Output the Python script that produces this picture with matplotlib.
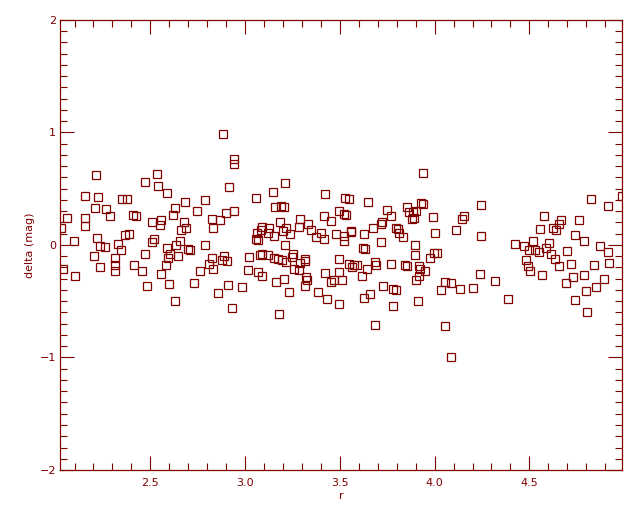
import matplotlib
matplotlib.use('Agg')
import matplotlib.pyplot as plt
from matplotlib.ticker import MultipleLocator
import numpy as np

# r values and delta (mag), left to right by strip
r = [2.215, 2.474, 2.537, 2.542, 2.157, 2.226, 2.351, 2.379, 2.210, 2.268,
     2.289, 2.062, 2.157, 2.410, 2.426, 2.511, 2.027, 2.157, 2.368, 2.389,
     2.220, 2.099, 2.511, 2.521, 2.236, 2.263, 2.331, 2.347, 2.204, 2.315,
     2.474, 2.038, 2.236, 2.315, 2.315, 2.416, 2.458, 2.104, 2.484,
     2.885, 2.943, 2.943, 2.590, 2.917, 2.685, 2.790, 2.632, 2.748, 2.943,
     2.901, 2.621, 2.558, 2.553, 2.679, 2.827, 2.869, 2.664, 2.690, 2.832,
     2.658, 2.590, 2.637, 2.701, 2.711, 2.790, 2.606, 2.595, 2.648, 2.584,
     2.827, 2.891, 2.880, 2.906, 2.811, 2.832, 2.764, 3.022, 3.017, 2.558,
     2.600, 2.732, 2.912, 2.985, 2.859, 2.632, 2.933,
     3.212, 3.149, 3.059, 3.423, 3.525, 3.160, 3.191, 3.207, 3.494, 3.524,
     3.534, 3.418, 3.455, 3.186, 3.292, 3.334, 3.286, 3.091, 3.128, 3.086,
     3.065, 3.123, 3.154, 3.202, 3.218, 3.239, 3.350, 3.402, 3.376, 3.418,
     3.482, 3.521, 3.524, 3.059, 3.070, 3.212, 3.080, 3.091, 3.123, 3.154,
     3.175, 3.197, 3.218, 3.255, 3.249, 3.318, 3.318, 3.292, 3.260, 3.286,
     3.498, 3.070, 3.091, 3.165, 3.207, 3.323, 3.328, 3.423, 3.498, 3.455,
     3.471, 3.513, 3.233, 3.318, 3.387, 3.434, 3.494, 3.181,
     3.941, 3.550, 3.650, 3.751, 3.772, 3.856, 3.867, 3.888, 3.904, 3.930,
     3.941, 3.883, 3.893, 3.994, 3.724, 3.719, 3.677, 3.561, 3.561, 3.629,
     3.798, 3.809, 3.814, 3.835, 4.004, 3.719, 3.624, 3.635, 3.898, 3.898,
     3.978, 3.999, 3.550, 3.566, 3.577, 3.592, 3.687, 3.693, 3.772, 3.846,
     3.856, 3.920, 3.925, 3.951, 3.920, 3.904, 3.645, 3.619, 3.730, 3.782,
     3.798, 3.661, 3.629, 3.914, 3.782, 3.687,
     4.247, 4.157, 4.146, 4.115, 4.247, 4.426, 4.474, 4.521, 4.500, 4.015,
     4.484, 4.495, 4.505, 4.241, 4.321, 4.057, 4.088, 4.036, 4.136, 4.204,
     4.389, 4.057, 4.088,
     4.827, 4.988, 4.917, 4.579, 4.669, 4.764, 4.658, 4.627, 4.642, 4.558,
     4.743, 4.606, 4.790, 4.875, 4.532, 4.553, 4.590, 4.616, 4.701, 4.917,
     4.637, 4.658, 4.722, 4.843, 4.922, 4.569, 4.732, 4.790, 4.896, 4.695,
     4.854, 4.796, 4.743, 4.806]

delta = [0.618, 0.556, 0.627, 0.520, 0.432, 0.423, 0.405, 0.405, 0.325, 0.316,
         0.254, 0.236, 0.236, 0.263, 0.254, 0.201, 0.147, 0.165, 0.085, 0.094,
         0.059, 0.032, 0.023, 0.050, -0.012, -0.021, 0.005, -0.048, -0.101, -0.119,
         -0.083, -0.217, -0.199, -0.181, -0.234, -0.181, -0.234, -0.279, -0.368,
         0.982, 0.763, 0.721, 0.458, 0.512, 0.378, 0.396, 0.325, 0.298, 0.298,
         0.281, 0.263, 0.218, 0.174, 0.201, 0.227, 0.218, 0.130, 0.147, 0.147,
         0.032, -0.030, -0.004, -0.039, -0.048, -0.004, -0.083, -0.119, -0.101, -0.181,
         -0.119, -0.101, -0.137, -0.146, -0.172, -0.217, -0.234, -0.110, -0.226, -0.261,
         -0.350, -0.341, -0.359, -0.377, -0.430, -0.501, -0.563,
         0.547, 0.467, 0.414, 0.449, 0.414, 0.334, 0.343, 0.334, 0.298, 0.272,
         0.263, 0.254, 0.210, 0.201, 0.227, 0.183, 0.156, 0.156, 0.147, 0.130,
         0.103, 0.103, 0.076, 0.121, 0.147, 0.094, 0.130, 0.103, 0.067, 0.050,
         0.094, 0.076, 0.032, 0.050, 0.041, -0.004, -0.092, -0.083, -0.092, -0.119,
         -0.128, -0.137, -0.155, -0.083, -0.110, -0.128, -0.146, -0.163, -0.217, -0.226,
         -0.128, -0.243, -0.279, -0.332, -0.306, -0.288, -0.314, -0.252, -0.243, -0.332,
         -0.314, -0.314, -0.421, -0.368, -0.421, -0.483, -0.528, -0.616,
         0.636, 0.405, 0.378, 0.307, 0.254, 0.334, 0.290, 0.290, 0.298, 0.369,
         0.361, 0.227, 0.236, 0.245, 0.201, 0.183, 0.147, 0.121, 0.112, 0.094,
         0.147, 0.139, 0.103, 0.067, 0.103, 0.023, -0.030, -0.039, -0.004, -0.092,
         -0.119, -0.075, -0.172, -0.199, -0.181, -0.181, -0.155, -0.181, -0.172, -0.181,
         -0.190, -0.190, -0.217, -0.234, -0.279, -0.314, -0.217, -0.279, -0.368, -0.394,
         -0.403, -0.439, -0.474, -0.501, -0.545, -0.714,
         0.352, 0.254, 0.227, 0.130, 0.076, 0.005, -0.012, 0.032, -0.048, -0.075,
         -0.137, -0.190, -0.234, -0.261, -0.323, -0.332, -0.341, -0.403, -0.394, -0.385,
         -0.483, -0.723, -0.998,
         0.405, 0.432, 0.343, 0.254, 0.218, 0.218, 0.183, 0.147, 0.130, 0.139,
         0.085, 0.014, 0.032, -0.012, -0.048, -0.066, -0.030, -0.083, -0.057, -0.066,
         -0.128, -0.190, -0.172, -0.181, -0.163, -0.270, -0.288, -0.270, -0.306, -0.341,
         -0.377, -0.412, -0.492, -0.599]

xticks = [2.5, 3.0, 3.5, 4.0, 4.5]
xticklabels = ['2.5', '3.0', '3.5', '4.0', '4.5']
yticks = [-2, -1, 0, 1, 2]

col = '#800000'

fig = plt.figure(figsize=(6.4, 5.12), dpi=100)
ax = fig.add_axes([0.0942, 0.082, 0.8781, 0.8793])

ax.plot(r, delta, ls='none', marker='s', markersize=5.2, mfc='none', mec=col, mew=0.9)

ax.set_xlim(2.025, 4.99)
ax.set_ylim(-2, 2)
ax.set_xticks(xticks)
ax.set_xticklabels(xticklabels)
ax.set_yticks(yticks)
ax.xaxis.set_minor_locator(MultipleLocator(0.1))
ax.yaxis.set_minor_locator(MultipleLocator(0.1))

for s in ax.spines.values():
    s.set_color(col)
    s.set_linewidth(0.9)
ax.tick_params(which='both', direction='in', top=True, right=True, colors=col,
               labelcolor=col, labelsize=8, width=0.8)
ax.tick_params(which='major', length=10)
ax.tick_params(which='minor', length=5)
ax.tick_params(axis='x', which='major', pad=6)
ax.tick_params(axis='y', which='major', pad=3)

ax.set_xlabel('r', color=col, fontsize=8, labelpad=2)
ax.set_ylabel('delta (mag)', color=col, fontsize=8, labelpad=3)

fig.savefig('out.png', dpi=100)
